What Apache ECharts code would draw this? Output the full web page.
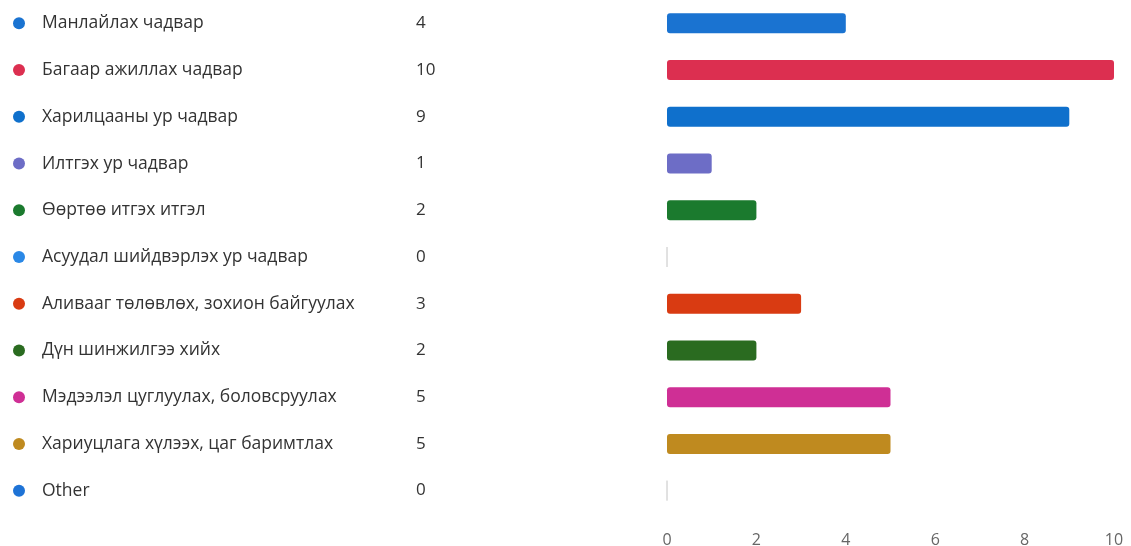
<!DOCTYPE html>
<html>
<head>
<meta charset="utf-8">
<script src="https://cdn.jsdelivr.net/npm/echarts@6/dist/echarts.min.js"></script>
<style>
  html, body { margin: 0; padding: 0; background: #fff; }
  #chart { width: 1131px; height: 546px; }
</style>
</head>
<body>
<div id="chart"></div>
<script>
// answer options, counts and bar colours
const categories = [
  'Манлайлах чадвар',
  'Багаар ажиллах чадвар',
  'Харилцааны ур чадвар',
  'Илтгэх ур чадвар',
  'Өөртөө итгэх итгэл',
  'Асуудал шийдвэрлэх ур чадвар',
  'Аливааг төлөвлөх, зохион байгуулах',
  'Дүн шинжилгээ хийх',
  'Мэдээлэл цуглуулах, боловсруулах',
  'Хариуцлага хүлээх, цаг баримтлах',
  'Other'
];
const counts = [4, 10, 9, 1, 2, 0, 3, 2, 5, 5, 0];
const colors = [
  '#1a73d1', '#dc2f50', '#0f70cc', '#6d6dc6', '#1b7a2e', '#2a88e6',
  '#d93b12', '#2a6b20', '#cf2f95', '#bf8a1f', '#1e73d6'
];
const xTicks = [0, 2, 4, 6, 8, 10];

const chart = echarts.init(document.getElementById('chart'));

// rich styles: one dot style per row so every dot gets its own colour
const rich = {
  s: { width: 17 },
  n: { width: 374, fontSize: 17.5, color: '#333', fontFamily: 'Open Sans' },
  v: { fontSize: 17, color: '#333', fontFamily: 'Open Sans' }
};
colors.forEach((c, i) => {
  rich['d' + i] = { width: 12, height: 12, borderRadius: 6, backgroundColor: c };
});

const option = {
  backgroundColor: '#fff',
  animation: false,
  grid: { left: 667, right: 17, top: 0, bottom: 32, outerBoundsMode: 'none' },
  xAxis: {
    type: 'value',
    min: xTicks[0],
    max: xTicks[xTicks.length - 1],
    interval: 2,
    axisLine: { show: false },
    axisTick: { show: false },
    splitLine: { show: false },
    axisLabel: {
      margin: 18,
      color: '#666',
      fontSize: 16,
      fontFamily: 'Open Sans'
    }
  },
  yAxis: {
    type: 'category',
    inverse: true,
    data: categories,
    axisLine: { show: false },
    axisTick: { show: false },
    axisLabel: {
      align: 'left',
      margin: 654,
      formatter: (name, idx) =>
        '{d' + idx + '| }{s| }{n|' + name + '}{v|' + counts[idx] + '}',
      rich: rich
    }
  },
  series: [{
    type: 'bar',
    barWidth: 20,
    data: counts.map((v, i) => ({
      value: v,
      itemStyle: v === 0
        ? { color: colors[i], borderColor: '#d8d8d8', borderWidth: 1 }
        : { color: colors[i], borderRadius: 3 }
    }))
  }]
};

chart.setOption(option);
</script>
</body>
</html>
